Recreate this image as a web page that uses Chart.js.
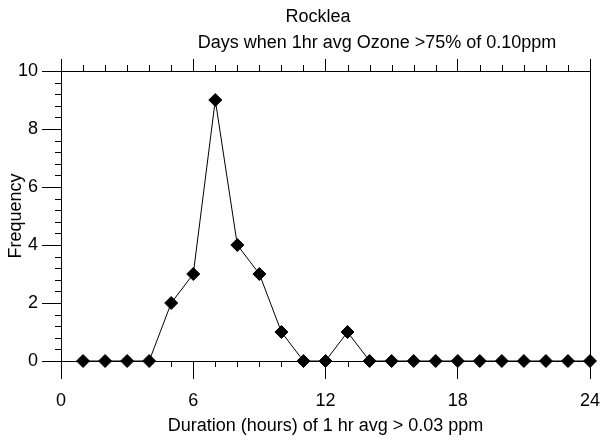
<!DOCTYPE html>
<html>
<head>
<meta charset="utf-8">
<script src="https://cdn.jsdelivr.net/npm/chart.js@4/dist/chart.umd.min.js"></script>
<style>
  html, body { margin: 0; padding: 0; background: #fff; }
  #wrap { width: 604px; height: 443px; }
</style>
</head>
<body>
<div id="wrap"><canvas id="chart" width="604" height="443"></canvas></div>
<script>
// data
const hours = [1, 2, 3, 4, 5, 6, 7, 8, 9, 10, 11, 12, 13, 14, 15, 16, 17, 18, 19, 20, 21, 22, 23, 24];
const frequency = [0, 0, 0, 0, 2, 3, 9, 4, 3, 1, 0, 0, 1, 0, 0, 0, 0, 0, 0, 0, 0, 0, 0, 0];
const xTicks = [0, 6, 12, 18, 24];
const yTicks = [0, 2, 4, 6, 8, 10];

const titleText = "Rocklea";
const subtitleText = "Days when 1hr avg Ozone >75% of 0.10ppm";
const xTitle = "Duration (hours) of 1 hr avg > 0.03 ppm";
const yTitle = "Frequency";

const FONT = "'Liberation Sans', Arial, sans-serif";

// minor ticks, frame and the two title lines
const framePlugin = {
    id: "frame",
    afterDraw(chart) {
        const ctx = chart.ctx;
        const area = chart.chartArea;
        const x = chart.scales.x;
        const y = chart.scales.y;
        ctx.save();
        ctx.strokeStyle = "#000";
        ctx.lineWidth = 1;
        ctx.beginPath();
        // right side of the frame
        ctx.moveTo(Math.round(area.right) + 0.5, area.top);
        ctx.lineTo(Math.round(area.right) + 0.5, area.bottom);
        // minor x ticks, top and bottom
        for (let v = 0; v <= 24; v++) {
            if (v % 6 === 0) continue;
            const px = Math.round(x.getPixelForValue(v)) + 0.5;
            ctx.moveTo(px, area.top);
            ctx.lineTo(px, area.top - 6);
            ctx.moveTo(px, area.bottom);
            ctx.lineTo(px, area.bottom + 6);
        }
        // minor y ticks
        for (let i = 0; i <= 25; i++) {
            if (i % 5 === 0) continue;
            const py = Math.round(y.getPixelForValue(i * 0.4)) + 0.5;
            ctx.moveTo(area.left, py);
            ctx.lineTo(area.left - 6, py);
        }
        ctx.stroke();

        ctx.fillStyle = "#000";
        ctx.font = "18px " + FONT;
        ctx.textBaseline = "middle";
        ctx.textAlign = "center";
        ctx.fillText(titleText, 318, 17);
        ctx.fillText(subtitleText, 377, 43);
        ctx.restore();
    }
};

// keep the plot box where the reference has it
function fitX(height) {
    return s => {
        s.height = height;
        s.paddingLeft = 0;
        s.paddingRight = 0;
    };
}

new Chart(document.getElementById("chart"), {
    type: "scatter",
    data: {
        datasets: [{
            data: hours.map((h, i) => ({ x: h, y: frequency[i] })),
            showLine: true,
            borderColor: "#000",
            borderWidth: 1,
            backgroundColor: "#000",
            pointStyle: "rectRot",
            pointRadius: 6.5,
            pointHoverRadius: 6.5,
            pointBorderWidth: 1,
            pointBorderColor: "#000",
            pointBackgroundColor: "#000",
            tension: 0,
            clip: false
        }]
    },
    options: {
        responsive: false,
        animation: false,
        events: [],
        layout: { padding: { left: 0, right: 14, top: 0, bottom: 0 } },
        plugins: {
            legend: { display: false },
            title: { display: false },
            tooltip: { enabled: false }
        },
        scales: {
            x: {
                type: "linear",
                position: "bottom",
                min: 0,
                max: 24,
                afterBuildTicks: s => { s.ticks = xTicks.map(v => ({ value: v })); },
                afterFit: fitX(82),
                ticks: { color: "#000", font: { size: 18, family: FONT }, padding: 11, maxRotation: 0 },
                grid: { drawOnChartArea: false, drawTicks: true, tickLength: 18, tickColor: "#000" },
                border: { color: "#000", width: 1 },
                title: { display: true, text: xTitle, color: "#000", font: { size: 18, family: FONT }, padding: { top: 0, bottom: 6 } }
            },
            x2: {
                type: "linear",
                position: "top",
                min: 0,
                max: 24,
                afterBuildTicks: s => { s.ticks = xTicks.map(v => ({ value: v })); },
                afterFit: fitX(71),
                ticks: { display: false },
                grid: { drawOnChartArea: false, drawTicks: true, tickLength: 12, tickColor: "#000" },
                border: { color: "#000", width: 1 }
            },
            y: {
                min: 0,
                max: 10,
                afterBuildTicks: s => { s.ticks = yTicks.map(v => ({ value: v })); },
                afterFit: s => { s.width = 61; s.paddingTop = 0; s.paddingBottom = 0; },
                ticks: { color: "#000", font: { size: 18, family: FONT }, padding: 4 },
                grid: { drawOnChartArea: false, drawTicks: true, tickLength: 19, tickColor: "#000" },
                border: { color: "#000", width: 1 },
                title: { display: true, text: yTitle, color: "#000", font: { size: 18, family: FONT }, padding: { top: 5, bottom: 0 } }
            }
        }
    },
    plugins: [framePlugin]
});
</script>
</body>
</html>
